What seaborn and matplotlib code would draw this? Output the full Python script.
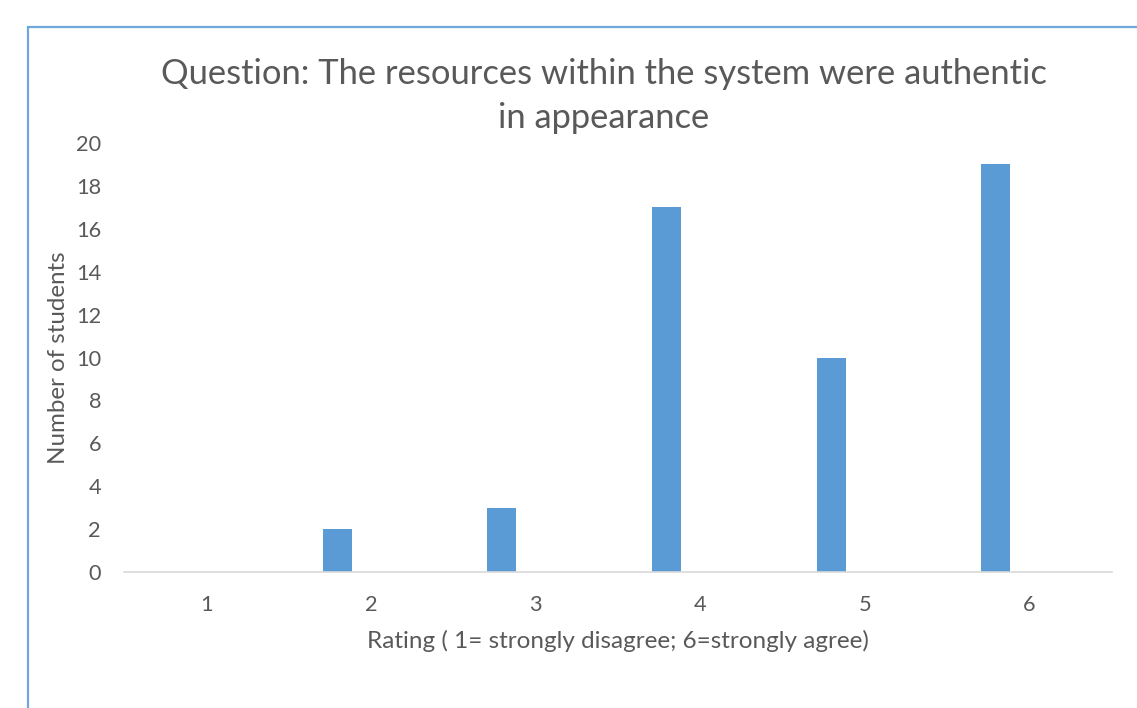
import matplotlib
matplotlib.use("Agg")
import matplotlib.pyplot as plt
import seaborn as sns
import pandas as pd
from matplotlib.patches import Rectangle

ratings = ["1", "2", "3", "4", "5", "6"]
counts = [0, 2, 3, 17, 10, 19]
yticks = [0, 2, 4, 6, 8, 10, 12, 14, 16, 18, 20]
title = "Question: The resources within the system were authentic\nin appearance"
xlabel = "Rating ( 1= strongly disagree; 6=strongly agree)"
ylabel = "Number of students"

sns.set_style("white")
plt.rcParams["font.family"] = ["Lato", "DejaVu Sans"]
txt = "#595959"

W, H = 1137, 708
fig = plt.figure(figsize=(W / 100, H / 100), dpi=100)
ax = fig.add_axes([124 / W, 1 - 572 / H, (1112 - 124) / W, (572 - 143) / H])

df = pd.DataFrame({"rating": ratings, "count": counts})
sns.barplot(data=df, x="rating", y="count", color="#5b9bd5", width=0.176,
            saturation=1, ax=ax, edgecolor="none")
for p in ax.patches:
    p.set_x(p.get_x() - 0.205)

ax.set_ylim(0, 20)
ax.set_xlim(-0.5, len(ratings) - 0.5)
ax.set_yticks(yticks)
ax.tick_params(axis="both", length=0, labelsize=15.7, colors=txt)
ax.tick_params(axis="x", pad=16.5)
ax.tick_params(axis="y", pad=16.5)
for s in ["top", "right", "left"]:
    ax.spines[s].set_visible(False)
ax.spines["bottom"].set_color("#d9d9d9")
ax.spines["bottom"].set_linewidth(1.2)
ax.set_xlabel(xlabel, fontsize=17.5, color=txt, labelpad=11)
ax.set_ylabel(ylabel, fontsize=17.4, color=txt, labelpad=5)

fig.text(604 / W, 1 - 96 / H, title, ha="center", va="center",
         fontsize=24.8, color=txt, linespacing=1.5)

rect = Rectangle((27.5 / W, -0.2), 1.5, 1 - 26.5 / H + 0.2, transform=fig.transFigure,
                 fill=False, edgecolor="#6fa8dc", linewidth=1.6, clip_on=False)
fig.patches.append(rect)

fig.savefig("out.png", dpi=100)
